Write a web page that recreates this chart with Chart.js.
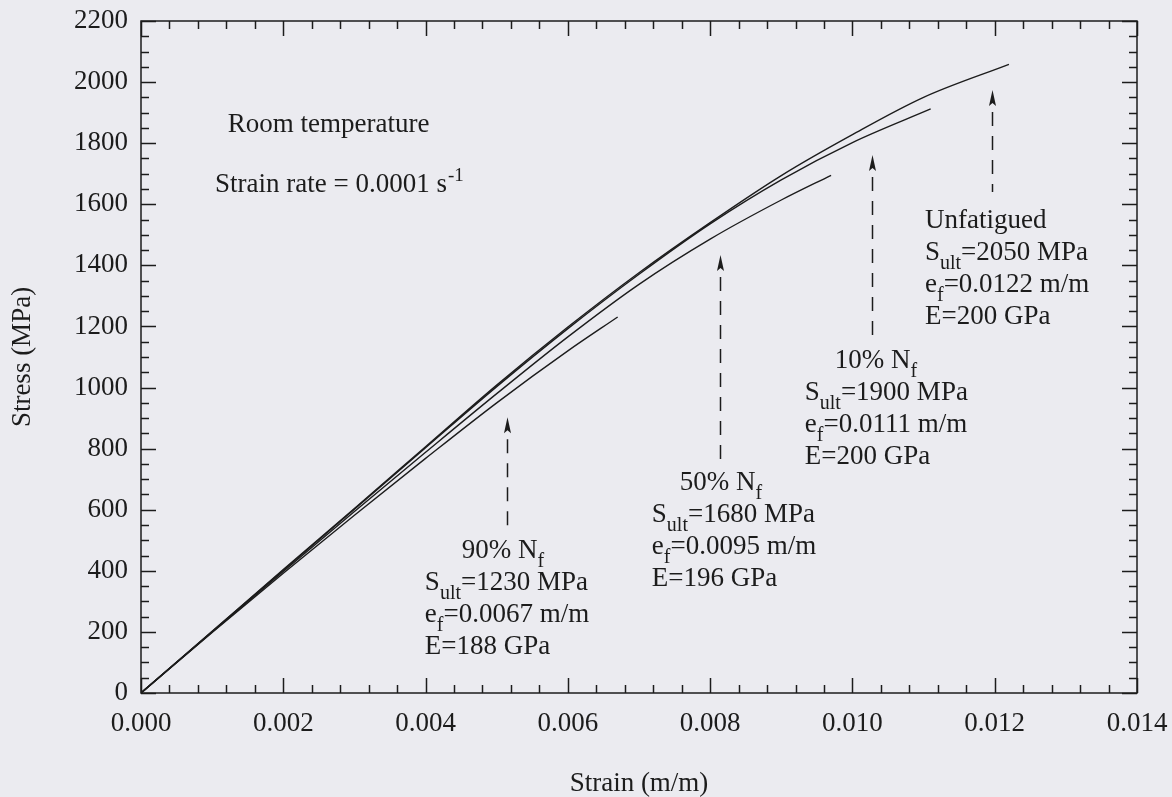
<!DOCTYPE html>
<html>
<head>
<meta charset="utf-8">
<title>Stress-strain curves after fatigue</title>
<script src="https://cdn.jsdelivr.net/npm/chart.js@4.4.1/dist/chart.umd.min.js"></script>
<style>
  html, body { margin: 0; padding: 0; background: #ebebf0; }
  #wrap { width: 1172px; height: 797px; }
</style>
</head>
<body>
<div id="wrap"><canvas id="chart" width="1172" height="797"></canvas></div>
<script>
// values
const strainUnfatigued = [0, 0.001, 0.002, 0.003, 0.004, 0.005, 0.006, 0.007, 0.008, 0.009, 0.010, 0.011, 0.0122];
const stressUnfatigued = [0, 202, 404, 604, 806, 1008, 1198, 1376, 1540, 1694, 1828, 1950, 2058];

const strain10 = [0, 0.001, 0.002, 0.003, 0.004, 0.005, 0.006, 0.007, 0.008, 0.009, 0.010, 0.0111];
const stress10 = [0, 201, 402, 602, 803, 1003, 1193, 1371, 1536, 1680, 1802, 1912];

const strain50 = [0, 0.001, 0.002, 0.003, 0.004, 0.005, 0.006, 0.007, 0.008, 0.009, 0.0097];
const stress50 = [0, 200, 398, 594, 788, 980, 1166, 1338, 1486, 1614, 1695];

const strain90 = [0, 0.001, 0.002, 0.003, 0.004, 0.005, 0.006, 0.0067];
const stress90 = [0, 198, 392, 582, 768, 950, 1120, 1231];

const strainTicks = [0, 0.002, 0.004, 0.006, 0.008, 0.010, 0.012, 0.014];
const stressTicks = [0, 200, 400, 600, 800, 1000, 1200, 1400, 1600, 1800, 2000, 2200];

// dashed arrows pointing at the failure points
const arrowStrain = [0.00514, 0.00814, 0.01027, 0.01196];
const arrowTip = [903, 1434, 1761, 1974];
const arrowBase = [540, 756, 1165, 1640];

const ink = '#1c1c1c';
const serif = '"Liberation Serif", "DejaVu Serif", serif';

// text notes: anchor is [strain, stress] of the first baseline
const notes = [
  { at: [0.00122, 1837], indent: 0, lines: ['Room temperature'] },
  { at: [0.00104, 1640], indent: 0, lines: ['Strain rate = 0.0001 s^{-1}'] },
  { at: [0.00399, 442], indent: 37, lines: ['90% N_{f}', 'S_{ult}=1230 MPa', 'e_{f}=0.0067 m/m', 'E=188 GPa'] },
  { at: [0.00718, 665], indent: 28, lines: ['50% N_{f}', 'S_{ult}=1680 MPa', 'e_{f}=0.0095 m/m', 'E=196 GPa'] },
  { at: [0.00933, 1064], indent: 30, lines: ['10% N_{f}', 'S_{ult}=1900 MPa', 'e_{f}=0.0111 m/m', 'E=200 GPa'] },
  { at: [0.01102, 1522], indent: 0, lines: ['Unfatigued', 'S_{ult}=2050 MPa', 'e_{f}=0.0122 m/m', 'E=200 GPa'] }
];

function series(label, xs, ys) {
  return {
    label: label,
    data: xs.map((x, i) => ({ x: x, y: ys[i] })),
    showLine: true,
    borderColor: ink,
    borderWidth: 1.4,
    pointRadius: 0,
    cubicInterpolationMode: 'monotone'
  };
}

// split "S_{ult}=..." into plain / sub / sup pieces
function pieces(str) {
  const out = [];
  const re = /([_^])\{([^}]*)\}/g;
  let last = 0, m;
  while ((m = re.exec(str)) !== null) {
    if (m.index > last) out.push({ t: str.slice(last, m.index), k: '' });
    out.push({ t: m[2], k: m[1] });
    last = re.lastIndex;
  }
  if (last < str.length) out.push({ t: str.slice(last), k: '' });
  return out;
}

// keep the plot box where the original has it
function noOverhang(s) {
  s.paddingTop = 0;
  s.paddingBottom = 0;
  s.paddingLeft = 0;
  s.paddingRight = 0;
}

const backdrop = {
  id: 'backdrop',
  beforeDraw(chart) {
    const ctx = chart.ctx;
    ctx.save();
    ctx.fillStyle = '#ebebf0';
    ctx.fillRect(0, 0, chart.width, chart.height);
    ctx.restore();
  }
};

const frameAndTicks = {
  id: 'frameAndTicks',
  afterDatasetsDraw(chart) {
    const { ctx, chartArea: a, scales: { x, y } } = chart;
    ctx.save();
    ctx.strokeStyle = ink;
    ctx.lineWidth = 1.5;
    ctx.strokeRect(a.left, a.top, a.right - a.left, a.bottom - a.top);
    ctx.beginPath();
    for (let i = 0; i <= 35; i++) {
      const px = Math.round(x.getPixelForValue(i * 0.0004)) + 0.5;
      const len = i % 5 === 0 ? 15 : 8;
      ctx.moveTo(px, a.bottom); ctx.lineTo(px, a.bottom - len);
      ctx.moveTo(px, a.top); ctx.lineTo(px, a.top + len);
    }
    for (let i = 0; i <= 44; i++) {
      const py = Math.round(y.getPixelForValue(i * 50)) + 0.5;
      const len = i % 4 === 0 ? 15 : 8;
      ctx.moveTo(a.left, py); ctx.lineTo(a.left + len, py);
      ctx.moveTo(a.right, py); ctx.lineTo(a.right - len, py);
    }
    ctx.stroke();
    ctx.restore();
  }
};

const arrowsAndNotes = {
  id: 'arrowsAndNotes',
  afterDatasetsDraw(chart) {
    const { ctx, scales: { x, y } } = chart;
    ctx.save();
    ctx.strokeStyle = ink;
    ctx.fillStyle = ink;
    ctx.lineWidth = 1.5;

    arrowStrain.forEach((s, i) => {
      const px = Math.round(x.getPixelForValue(s)) + 0.5;
      const tip = y.getPixelForValue(arrowTip[i]);
      const base = y.getPixelForValue(arrowBase[i]);
      ctx.setLineDash([14, 10]);
      ctx.beginPath();
      ctx.moveTo(px, tip + 22);
      ctx.lineTo(px, base);
      ctx.stroke();
      ctx.setLineDash([]);
      ctx.beginPath();
      ctx.moveTo(px, tip);
      ctx.lineTo(px - 3.5, tip + 16);
      ctx.lineTo(px, tip + 13);
      ctx.lineTo(px + 3.5, tip + 16);
      ctx.closePath();
      ctx.fill();
    });

    ctx.textBaseline = 'alphabetic';
    ctx.textAlign = 'left';
    notes.forEach(n => {
      const left = x.getPixelForValue(n.at[0]);
      const top = y.getPixelForValue(n.at[1]);
      n.lines.forEach((line, li) => {
        let cx = left + (li === 0 ? n.indent : 0);
        const by = top + li * 32;
        pieces(line).forEach(p => {
          if (p.k === '_') {
            ctx.font = '20px ' + serif;
            ctx.fillText(p.t, cx, by + 9);
          } else if (p.k === '^') {
            ctx.font = '19px ' + serif;
            ctx.fillText(p.t, cx + 1, by - 11);
          } else {
            ctx.font = '27px ' + serif;
            ctx.fillText(p.t, cx, by);
          }
          cx += ctx.measureText(p.t).width;
        });
      });
    });
    ctx.restore();
  }
};

new Chart(document.getElementById('chart'), {
  type: 'scatter',
  data: {
    datasets: [
      series('Unfatigued', strainUnfatigued, stressUnfatigued),
      series('10% Nf', strain10, stress10),
      series('50% Nf', strain50, stress50),
      series('90% Nf', strain90, stress90)
    ]
  },
  options: {
    responsive: false,
    animation: false,
    layout: { padding: { top: 21, right: 35, left: 0, bottom: 0 } },
    plugins: {
      legend: { display: false },
      tooltip: { enabled: false }
    },
    scales: {
      x: {
        type: 'linear',
        min: 0,
        max: 0.014,
        afterBuildTicks: s => { s.ticks = strainTicks.map(v => ({ value: v })); },
        afterFit: s => { s.height = 104; noOverhang(s); },
        grid: { display: false, drawTicks: false },
        border: { display: false },
        ticks: {
          padding: 15,
          color: ink,
          autoSkip: false,
          maxRotation: 0,
          font: { family: serif, size: 27 },
          callback: v => Number(v).toFixed(3)
        },
        title: {
          display: true,
          text: 'Strain (m/m)',
          color: ink,
          padding: 0,
          font: { family: serif, size: 27, lineHeight: 1 }
        }
      },
      y: {
        type: 'linear',
        min: 0,
        max: 2200,
        afterBuildTicks: s => { s.ticks = stressTicks.map(v => ({ value: v })); },
        afterFit: s => { s.width = 141; noOverhang(s); },
        grid: { display: false, drawTicks: false },
        border: { display: false },
        ticks: {
          padding: 13,
          color: ink,
          autoSkip: false,
          font: { family: serif, size: 27 },
          callback: v => String(v)
        },
        title: {
          display: true,
          text: 'Stress (MPa)',
          color: ink,
          padding: { top: 9, bottom: 0 },
          font: { family: serif, size: 27, lineHeight: 1 }
        }
      }
    }
  },
  plugins: [backdrop, frameAndTicks, arrowsAndNotes]
});
</script>
</body>
</html>
